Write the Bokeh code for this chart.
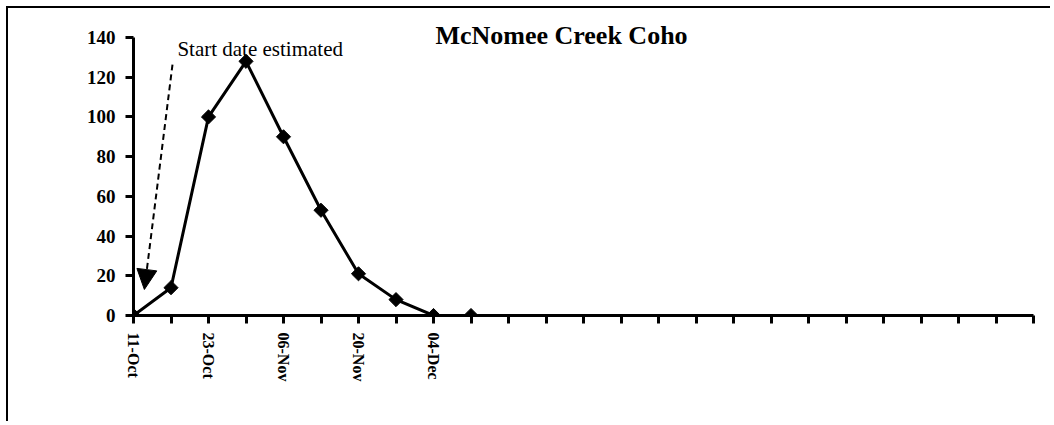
import math
from bokeh.plotting import figure
from bokeh.models import Range1d, FixedTicker, Label, Arrow, NormalHead
from bokeh.embed import file_html
from bokeh.resources import INLINE

# ---- data ----
positions = [0, 1, 2, 3, 4, 5, 6, 7, 8, 9]
counts = [0, 14, 100, 128, 90, 53, 21, 8, 0, 0]
tick_labels = {0: "11-Oct", 2: "23-Oct", 4: "06-Nov", 6: "20-Nov", 8: "04-Dec"}
n_categories = 24
y_ticks = [0, 20, 40, 60, 80, 100, 120, 140]
title_text = "McNomee Creek Coho"
note_text = "Start date estimated"

SERIF = "Liberation Serif"

p = figure(width=1044, height=415, output_backend="svg", toolbar_location=None,
           x_range=Range1d(0, n_categories), y_range=Range1d(0, 153.6),
           min_border_left=125, min_border_right=19, min_border_top=2,
           min_border_bottom=108)
p.margin = (6, 0, 0, 6)
p.styles = {"border-top": "2px solid black", "border-left": "2px solid black"}
p.outline_line_color = None
p.xgrid.visible = False
p.ygrid.visible = False
p.background_fill_color = "white"
p.border_fill_color = "white"

# axes
for ax in (p.xaxis, p.yaxis):
    ax.axis_line_width = 3
    ax.axis_line_color = "black"
    ax.major_tick_line_width = 3
    ax.major_tick_line_color = "black"
    ax.major_tick_out = 8
    ax.major_tick_in = 0
    ax.minor_tick_line_color = None
    ax.major_label_text_font = SERIF
    ax.major_label_text_font_style = "bold"
    ax.major_label_text_color = "black"

p.yaxis.ticker = FixedTicker(ticks=y_ticks)
p.yaxis.bounds = (0, 140)
p.yaxis.major_label_text_font_size = "19px"
p.yaxis.major_label_standoff = 10

p.xaxis.ticker = FixedTicker(ticks=list(range(n_categories + 1)))
p.xaxis.major_label_overrides = {i: tick_labels.get(i, "") for i in range(n_categories + 1)}
p.xaxis.major_label_orientation = "vertical"
p.xaxis.major_label_text_font_size = "16px"
p.xaxis.major_label_standoff = 9

# series
p.line(positions, counts, line_color="black", line_width=3)
p.scatter(positions, counts, marker="square", angle=math.pi / 4, size=10,
          fill_color="black", line_color="black")

# annotations
p.add_layout(Label(x=8.05, y=141, text=title_text, text_font=SERIF,
                   text_font_style="bold", text_font_size="26px",
                   text_baseline="middle", text_align="left", text_color="black"))
p.add_layout(Label(x=1.17, y=134, text=note_text, text_font=SERIF,
                   text_font_style="normal", text_font_size="21px",
                   text_baseline="middle", text_align="left", text_color="black"))
p.add_layout(Arrow(x_start=1.04, y_start=126.4, x_end=0.29, y_end=13.1,
                   line_color="black", line_width=2, line_dash="6 4",
                   end=NormalHead(size=20, fill_color="black", line_color="black")))

open("out.html", "w").write(file_html(p, INLINE))
